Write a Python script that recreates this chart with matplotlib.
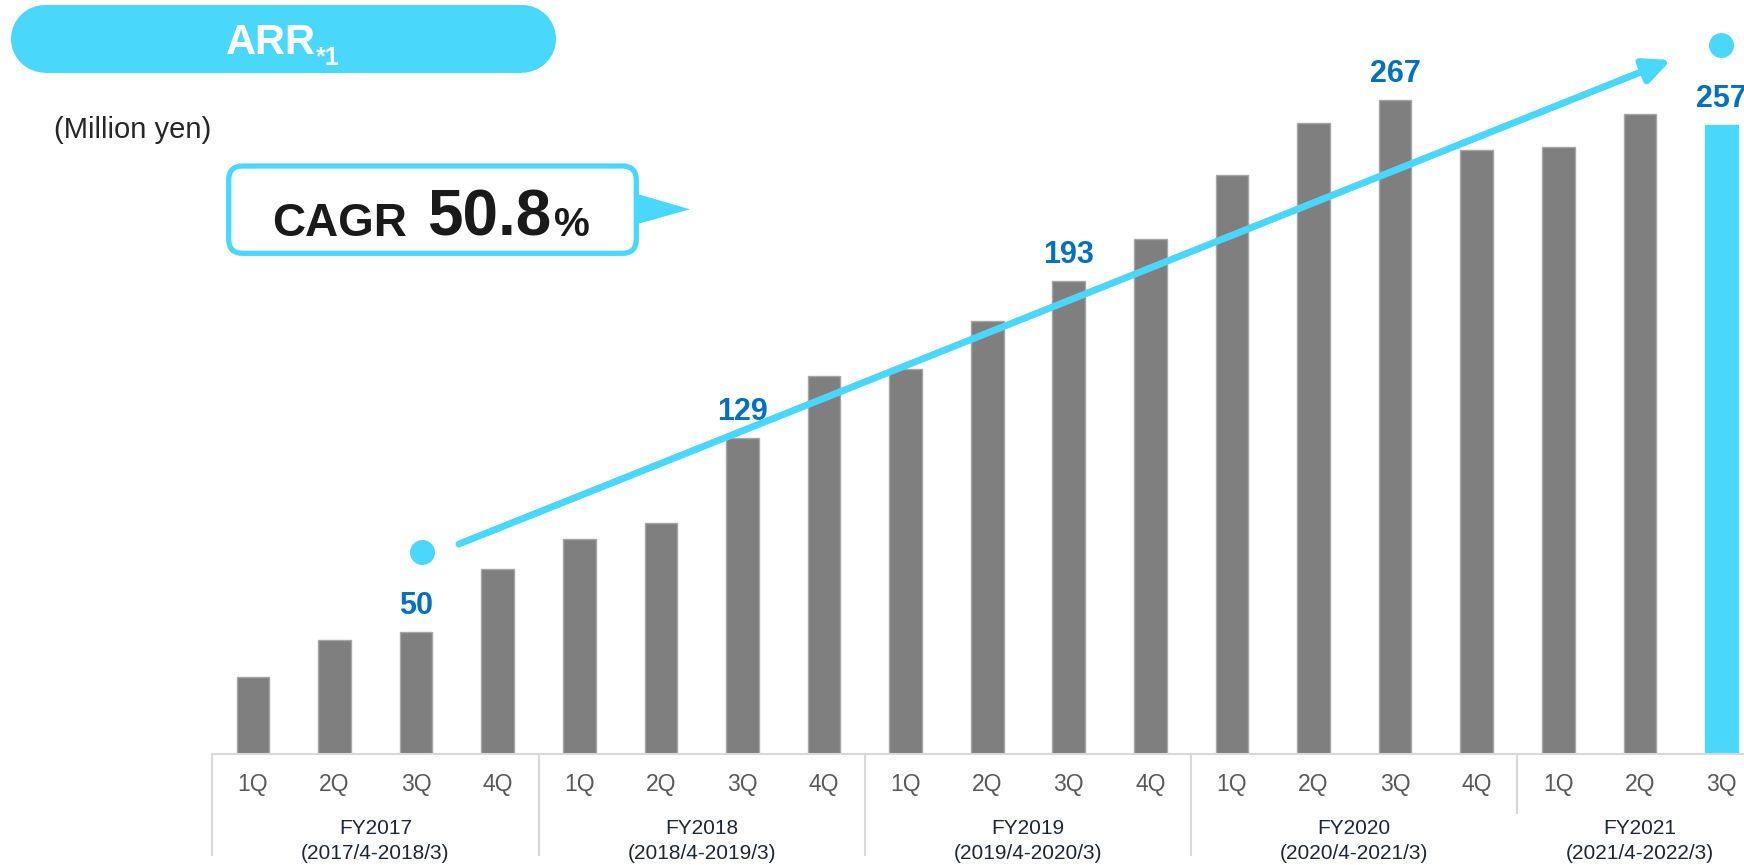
import matplotlib.pyplot as plt
from matplotlib.patches import FancyBboxPatch, FancyArrowPatch, Polygon, Rectangle, Circle
from matplotlib.transforms import Affine2D, blended_transform_factory, offset_copy

plt.rcParams['font.family'] = ['Liberation Sans', 'DejaVu Sans']

# 四半期ごとのARR（百万円）
quarters = ['1Q', '2Q', '3Q', '4Q'] * 4 + ['1Q', '2Q', '3Q']
arr = [31.4, 46.4, 50, 75.5, 87.7, 94.5, 129, 154.5, 157.3, 176.8, 193,
       210.5, 236.4, 257.5, 267, 246.7, 248.0, 261.2, 257]
fiscal_years = ['FY2017', 'FY2018', 'FY2019', 'FY2020', 'FY2021']
fy_periods = ['(2017/4-2018/3)', '(2018/4-2019/3)', '(2019/4-2020/3)',
              '(2020/4-2021/3)', '(2021/4-2022/3)']
fy_sizes = [4, 4, 4, 4, 3]
label_idx = [2, 6, 10, 14, 18]   # 値を表示する四半期
dot_idx = [2, 18]                # 矢印の始点・終点の丸
cagr = 50.8

CYAN = '#4AD7FC'
GRAY = '#7F7F7F'
BLUE = '#0070C0'
LINE = '#D9D9D9'

W, H = 1744, 865
fig = plt.figure(figsize=(W / 100, H / 100), dpi=100)
# 左上原点のピクセル座標
px = Affine2D().scale(1 / 100).scale(1, -1).translate(0, H / 100) + fig.dpi_scale_trans

ax = fig.add_axes([212.2 / W, 111 / H, 1 - 212.2 / W, 754 / H])
x = list(range(len(arr)))
colors = [GRAY] * (len(arr) - 1) + [CYAN]
edges = ['#A6A6A6'] * (len(arr) - 1) + [CYAN]
ax.bar(x, arr, width=0.4, color=colors, edgecolor=edges, linewidth=1, zorder=2)
ax.set_xlim(-0.5, 18.277)
ax.set_ylim(0, 307.9)

for s in ['top', 'right', 'left']:
    ax.spines[s].set_visible(False)
ax.spines['bottom'].set_color(LINE)
ax.spines['bottom'].set_linewidth(1.5)
ax.set_yticks([])
ax.set_xticks(x, quarters)
ax.tick_params(axis='x', length=0, pad=13.4, labelsize=16.5, labelcolor='#595959')

# 年度の区切り線と年度ラベル
bx = blended_transform_factory(ax.transData, ax.transAxes)
bf = blended_transform_factory(ax.transData, fig.transFigure)
start = 0
for i, n in enumerate(fy_sizes):
    b = start - 0.5
    bottom = -0.078 if i == len(fy_sizes) - 1 else -0.134
    ax.plot([b, b], [0, bottom], transform=bx, color=LINE, lw=1.5, clip_on=False)
    mid = start + (n - 1) / 2
    ax.text(mid, 1 - 834 / H, fiscal_years[i], transform=bf, ha='center',
            va='baseline', fontsize=15, color='#1F2633')
    ax.text(mid, 1 - 859 / H, fy_periods[i], transform=bf, ha='center',
            va='baseline', fontsize=15, color='#1F2633')
    start += n

# 値ラベル
for i in label_idx:
    ax.annotate(f'{arr[i]:.0f}', (i, arr[i]), xytext=(0, 13), textcoords='offset points',
                ha='center', va='baseline', fontsize=22, fontweight='bold',
                color=BLUE, annotation_clip=False)

# 丸
dot_dx = [4.3, 0]
for i, dx in zip(dot_idx, dot_dx):
    tr = offset_copy(ax.transData, fig=fig, x=dx, y=57.5, units='points')
    ax.plot(i, arr[i], 'o', ms=18, color=CYAN, mec='none', transform=tr, clip_on=False)

# 成長を示す矢印
arrow = FancyArrowPatch((459, 544), (1671, 60), transform=px,
                        arrowstyle='-|>,head_length=16,head_width=7.5', mutation_scale=1,
                        color=CYAN, lw=5, shrinkA=0, shrinkB=0, zorder=5)
fig.add_artist(arrow)

# タイトルの帯（両端は半円）
r = 33.85
fig.add_artist(Rectangle((11 + r, 5), 545 - 2 * r, 2 * r, transform=px,
                         facecolor=CYAN, edgecolor='none'))
fig.add_artist(Circle((11 + r, 5 + r), r, transform=px, facecolor=CYAN, edgecolor='none'))
fig.add_artist(Circle((556 - r, 5 + r), r, transform=px, facecolor=CYAN, edgecolor='none'))
fig.text(225.7, 54, 'ARR', transform=px, ha='left', va='baseline',
         fontsize=30, fontweight='bold', color='white')
fig.text(316, 65, '*1', transform=px, ha='left', va='baseline',
         fontsize=18, fontweight='bold', color='white')

fig.text(54, 138, '(Million yen)', transform=px, ha='left', va='baseline',
         fontsize=21, color='#262626')

# CAGR吹き出し
tri = Polygon([(634, 193), (690, 209.3), (634, 225)], closed=True, transform=px,
              facecolor=CYAN, edgecolor='none')
fig.add_artist(tri)
box = FancyBboxPatch((228.7, 166), 407.6, 87.3, boxstyle='round,pad=0,rounding_size=14',
                     transform=px, facecolor='white', edgecolor=CYAN, linewidth=3.8)
fig.add_artist(box)
fig.text(272.3, 236, 'CAGR', transform=px, ha='left', va='baseline',
         fontsize=33, fontweight='bold', color='#1A1A1A')
fig.text(426.7, 236, f'{cagr}', transform=px, ha='left', va='baseline',
         fontsize=46, fontweight='bold', color='#1A1A1A')
fig.text(554, 236, '%', transform=px, ha='left', va='baseline',
         fontsize=29, fontweight='bold', color='#1A1A1A')

fig.savefig('out.png', dpi=100)
